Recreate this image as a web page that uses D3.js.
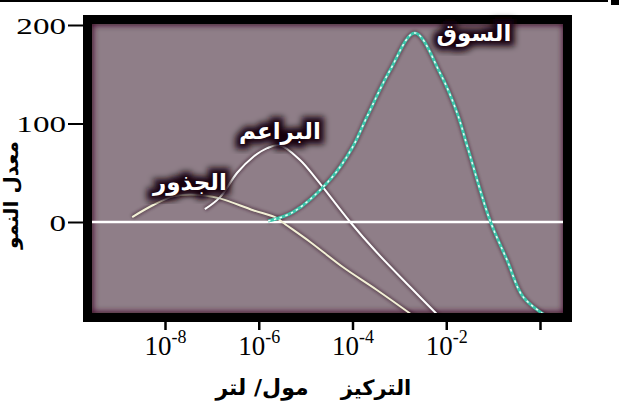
<!DOCTYPE html>
<html>
<head>
<meta charset="utf-8">
<script src="https://cdn.jsdelivr.net/npm/d3@7/dist/d3.min.js"></script>
<style>
  body { margin: 0; background: #fff; }
  svg { display: block; }
</style>
</head>
<body>
<div id="chart"></div>
<script>
// concentration exponents (log10 mol/L) and growth rate for each organ
var rootsExp  = [-8.70, -8.26, -7.83, -7.47, -7.15, -6.83, -6.12, -5.61, -5.50, -4.91, -4.20, -3.48, -2.65];
var rootsRate = [5, 17, 26, 28, 27, 24, 12, 4, 0, -20, -46, -69, -97];

var budsExp  = [-7.15, -6.83, -6.46, -6.12, -5.82, -5.55, -5.12, -4.76, -4.05, -3.48, -2.77, -2.15];
var budsRate = [13, 25, 50, 66, 75, 78, 63, 43, 0, -31, -66, -96];

var stemsExp  = [-5.80, -5.27, -4.48, -4.01, -3.69, -3.20, -2.67, -2.13, -1.77, -1.54, -1.07, -0.70, -0.36, 0.15];
var stemsRate = [1, 10, 43, 75, 107, 154, 192, 151, 111, 75, 2, -39, -76, -96];

var yTicks = [0, 100, 200];
var xTicks = [-8, -6, -4, -2, 0];
var xTickLabels = ["-8", "-6", "-4", "-2", ""];

var labels = [
  { name: "السوق", exp: -1.41, rate: 192 },
  { name: "البراعم", exp: -5.55, rate: 92 },
  { name: "الجذور", exp: -7.47, rate: 41 }
];

var width = 619, height = 403;

var svg = d3.select('#chart')
  .append('svg')
  .attr('width', width)
  .attr('height', height);

var x = d3.scaleLog().domain([1e-8, 1]).range([165, 540]);
var y = d3.scaleLinear().domain([0, 200]).range([222, 25]);

var defs = svg.append('defs');
defs.append('filter').attr('id', 'blur3')
  .attr('x', '-20%').attr('y', '-30%').attr('width', '140%').attr('height', '160%')
  .append('feGaussianBlur').attr('stdDeviation', 3);
defs.append('filter').attr('id', 'blur2')
  .attr('x', '-20%').attr('y', '-20%').attr('width', '140%').attr('height', '140%')
  .append('feGaussianBlur').attr('stdDeviation', 1.6);
defs.append('clipPath').attr('id', 'plotClip')
  .append('rect').attr('x', 88).attr('y', 20).attr('width', 480).attr('height', 298);

// page rule at top
svg.append('rect').attr('x', 0).attr('y', 0).attr('width', 608).attr('height', 2).attr('fill', '#000');
svg.append('rect').attr('x', 611).attr('y', 0).attr('width', 8).attr('height', 5).attr('fill', '#000');

// plot background
var plot = svg.append('g').attr('clip-path', 'url(#plotClip)');
plot.append('rect')
  .attr('x', 83).attr('y', 15).attr('width', 490).attr('height', 307)
  .attr('fill', '#8f7e88');
// dark glow inside the frame
plot.append('rect')
  .attr('x', 88).attr('y', 20).attr('width', 480).attr('height', 297)
  .attr('fill', 'none').attr('stroke', '#3d1028').attr('stroke-width', 10)
  .attr('filter', 'url(#blur3)');

// zero line haze
plot.append('line')
  .attr('x1', 90).attr('x2', 573).attr('y1', y(0)).attr('y2', y(0))
  .attr('stroke', '#3d1028').attr('stroke-width', 8).attr('opacity', 0.7)
  .attr('filter', 'url(#blur2)');

function series(ex, rate) {
  return ex.map(function (e, i) { return [Math.pow(10, e), rate[i]]; });
}

var line = d3.line()
  .x(function (d) { return x(d[0]); })
  .y(function (d) { return y(d[1]); })
  .curve(d3.curveCatmullRom.alpha(0.5));

var curves = [
  { data: series(rootsExp, rootsRate), color: '#f3f1d6' },
  { data: series(budsExp, budsRate), color: '#ffffff' },
  { data: series(stemsExp, stemsRate), color: '#3cc7ab' }
];

// shadows under the curves
plot.selectAll('path.shadow')
  .data(curves)
  .enter()
  .append('path')
  .attr('class', 'shadow')
  .attr('d', function (d) { return line(d.data); })
  .attr('fill', 'none')
  .attr('stroke', '#2b0b1c')
  .attr('stroke-width', 5)
  .attr('opacity', 0.45)
  .attr('filter', 'url(#blur2)');

plot.append('line')
  .attr('x1', 90).attr('x2', 573).attr('y1', y(0)).attr('y2', y(0))
  .attr('stroke', '#ffffff').attr('stroke-width', 2.5);

plot.selectAll('path.curve')
  .data(curves)
  .enter()
  .append('path')
  .attr('class', 'curve')
  .attr('d', function (d) { return line(d.data); })
  .attr('fill', 'none')
  .attr('stroke', function (d) { return d.color; })
  .attr('stroke-width', function (d, i) { return i == 2 ? 3 : 2; });

// white dots on the stems curve
plot.append('path')
  .attr('d', line(curves[2].data))
  .attr('fill', 'none')
  .attr('stroke', '#ffffff')
  .attr('stroke-width', 1.5)
  .attr('stroke-dasharray', '2.5 3.5')
  .attr('opacity', 0.9);

// frame
svg.append('rect')
  .attr('x', 87.5).attr('y', 19.5).attr('width', 480).attr('height', 298)
  .attr('fill', 'none').attr('stroke', '#000').attr('stroke-width', 9);

// y axis
var yAxis = svg.append('g')
  .attr('transform', 'translate(83,0)')
  .call(d3.axisLeft(y).tickValues(yTicks).tickSize(15).tickPadding(2));
yAxis.select('.domain').remove();
yAxis.selectAll('line').attr('stroke', '#000').attr('stroke-width', 2);
yAxis.selectAll('text')
  .attr('fill', '#000')
  .style('font-family', '"Liberation Serif", serif')
  .style('font-size', '24px')
  .attr('x', -17 / 1.38)
  .attr('dy', '0.35em')
  .attr('transform', 'scale(1.38,1)');

// x axis
var xAxis = svg.append('g')
  .attr('transform', 'translate(0,321)')
  .call(d3.axisBottom(x).tickValues(xTicks.map(function (e) { return Math.pow(10, e); }))
    .tickSize(9).tickFormat(''));
xAxis.select('.domain').remove();
xAxis.selectAll('line').attr('stroke', '#000').attr('stroke-width', 2.5);
xAxis.selectAll('.tick').each(function (d, i) {
  if (!xTickLabels[i]) return;
  var t = d3.select(this).append('text')
    .attr('y', 34)
    .attr('text-anchor', 'middle')
    .attr('fill', '#000')
    .style('font-family', '"Liberation Serif", serif')
    .style('font-size', '27px');
  t.append('tspan').text('10');
  t.append('tspan').attr('dy', -12).style('font-size', '18px').text(xTickLabels[i]);
});

// axis titles
var titleFont = '"DejaVu Sans", sans-serif';
svg.append('text')
  .attr('x', 376).attr('y', 395)
  .attr('text-anchor', 'middle')
  .style('font-family', titleFont)
  .style('font-weight', 'bold')
  .style('font-size', '21px')
  .text('التركيز');
svg.append('text')
  .attr('x', 262).attr('y', 395)
  .attr('text-anchor', 'middle')
  .style('font-family', titleFont)
  .style('font-weight', 'bold')
  .style('font-size', '22px')
  .text('مول/ لتر');

svg.append('text')
  .attr('transform', 'translate(18,195) rotate(-90)')
  .attr('text-anchor', 'middle')
  .style('font-family', titleFont)
  .style('font-weight', 'bold')
  .style('font-size', '20px')
  .text('معدل النمو');

// curve labels with dark glow
var lab = svg.selectAll('g.lab')
  .data(labels)
  .enter()
  .append('g')
  .attr('class', 'lab')
  .attr('transform', function (d) {
    return 'translate(' + x(Math.pow(10, d.exp)) + ',' + y(d.rate) + ')';
  });
lab.append('text')
  .attr('text-anchor', 'middle')
  .attr('dy', '0.35em')
  .style('font-family', titleFont)
  .style('font-weight', 'bold')
  .style('font-size', '23px')
  .attr('fill', '#14030c')
  .attr('stroke', '#14030c')
  .attr('stroke-width', 10)
  .attr('filter', 'url(#blur3)')
  .text(function (d) { return d.name; });
lab.append('text')
  .attr('text-anchor', 'middle')
  .attr('dy', '0.35em')
  .style('font-family', titleFont)
  .style('font-weight', 'bold')
  .style('font-size', '23px')
  .attr('fill', '#ffffff')
  .text(function (d) { return d.name; });
</script>
</body>
</html>
